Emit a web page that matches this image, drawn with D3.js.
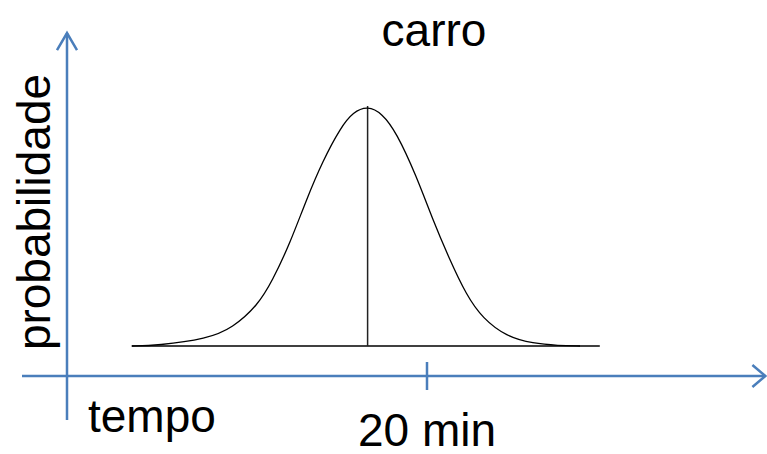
<!doctype html>
<html>
<head>
  <meta charset="utf8">
  <title>carro</title>
  <style>
    body { margin: 0; padding: 0; background: #fff; }
    text { font-family: 'Liberation Sans', Arial, sans-serif; fill: #000; }
  </style>
</head>
<body>
  <svg id="chart"></svg>

  <script src="https://cdn.jsdelivr.net/npm/d3@7/dist/d3.min.js"></script>
  <script>
    // minutes vs relative probability
    const minutes = [3.6, 5.0, 7.8, 9.2, 10.6, 11.4, 12.4, 13.3, 14.2, 15.2, 15.9, 16.7,
                     17.5, 18.3, 19.4, 20.3, 21.2, 22.2, 23.1, 24.4, 25.9, 27.3, 28.5]
    const prob = [0, 0.002, 0.03, 0.075, 0.17, 0.27, 0.43, 0.61, 0.77, 0.91, 0.975, 1,
                  0.97, 0.89, 0.71, 0.53, 0.37, 0.21, 0.115, 0.04, 0.01, 0.002, 0]
    const peakMinute = 16.7
    const baseline = [3.6, 29.6]
    const tickValues = [20]
    const tickLabels = ['20 min']

    const width = 767
    const height = 454
    const axisColor = '#4a7ebb'

    const svg = d3.select('#chart')
      .attr('width', width)
      .attr('height', height)

    // 0 min sits on the y axis, 20 min at the tick
    const x = d3.scaleLinear().domain([0, 20]).range([67, 427])
    const y = d3.scaleLinear().domain([0, 1]).range([346, 106])

    const xAxisY = y(-0.125)

    // x axis with open arrowhead
    svg.append('line')
      .attr('x1', x(-2.5)).attr('x2', x(38.8))
      .attr('y1', xAxisY).attr('y2', xAxisY)
      .style('stroke', axisColor).style('stroke-width', 2.5)
    svg.append('path')
      .attr('d', `M${x(38.8) - 13},${xAxisY - 11}L${x(38.8)},${xAxisY}L${x(38.8) - 13},${xAxisY + 11}`)
      .style('fill', 'none').style('stroke', axisColor).style('stroke-width', 2.5)

    // y axis with open arrowhead
    svg.append('line')
      .attr('x1', x(0)).attr('x2', x(0))
      .attr('y1', y(-0.308)).attr('y2', y(1.304))
      .style('stroke', axisColor).style('stroke-width', 2.5)
    svg.append('path')
      .attr('d', `M${x(0) - 10},${y(1.304) + 17}L${x(0)},${y(1.304)}L${x(0) + 10},${y(1.304) + 17}`)
      .style('fill', 'none').style('stroke', axisColor).style('stroke-width', 2.5)

    // tick crossing the x axis
    svg.selectAll('.tick')
      .data(tickValues)
      .join('line')
      .attr('class', 'tick')
      .attr('x1', d => x(d)).attr('x2', d => x(d))
      .attr('y1', xAxisY - 14).attr('y2', xAxisY + 14)
      .style('stroke', axisColor).style('stroke-width', 2.5)

    svg.selectAll('.ticklabel')
      .data(tickValues)
      .join('text')
      .attr('class', 'ticklabel')
      .attr('x', d => x(d))
      .attr('y', 446)
      .style('text-anchor', 'middle')
      .style('font-size', '46px')
      .text((d, i) => tickLabels[i])

    // baseline under the curve
    svg.append('line')
      .attr('x1', x(baseline[0])).attr('x2', x(baseline[1]))
      .attr('y1', y(0)).attr('y2', y(0))
      .style('stroke', '#000').style('stroke-width', 1.5)

    // line at the peak
    svg.append('line')
      .attr('x1', x(peakMinute)).attr('x2', x(peakMinute))
      .attr('y1', y(0)).attr('y2', y(1))
      .style('stroke', '#222').style('stroke-width', 1.5)

    const line = d3.line()
      .x(d => x(d[0]))
      .y(d => y(d[1]))
      .curve(d3.curveBasis)

    svg.append('path')
      .datum(d3.zip(minutes, prob))
      .attr('d', line)
      .style('fill', 'none')
      .style('stroke', '#000')
      .style('stroke-width', 1.3)

    // labels
    svg.append('text')
      .attr('x', 434).attr('y', 46)
      .style('text-anchor', 'middle')
      .style('font-size', '46px')
      .text('carro')

    svg.append('text')
      .attr('x', 88).attr('y', 432)
      .style('font-size', '46px')
      .text('tempo')

    svg.append('text')
      .attr('transform', 'translate(50,212) rotate(-90)')
      .style('text-anchor', 'middle')
      .style('font-size', '46px')
      .text('probabilidade')
  </script>
</body>
</html>
